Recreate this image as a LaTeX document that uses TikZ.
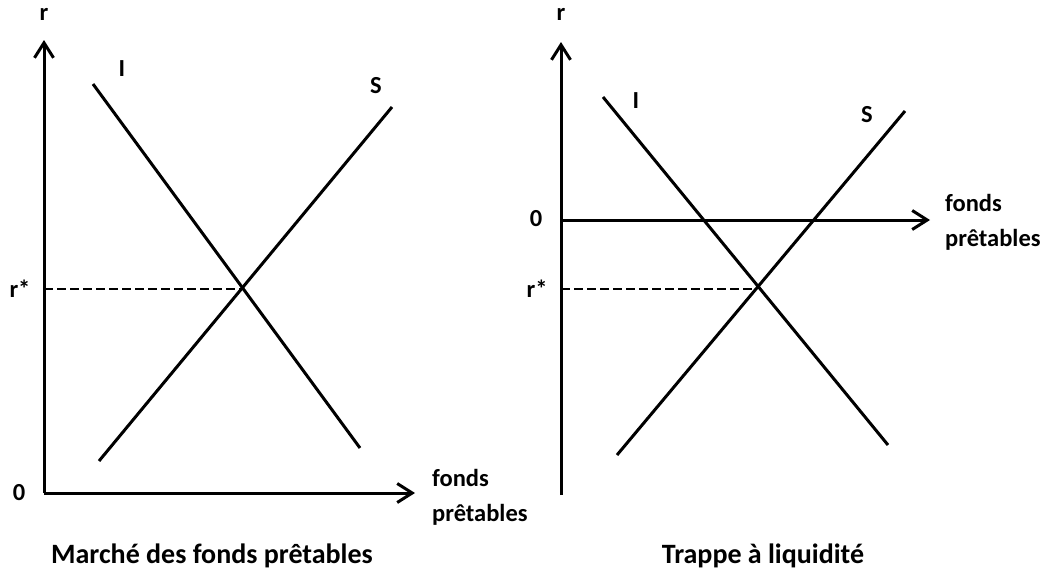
\documentclass[tikz,border=0pt]{standalone}
\usepackage{fontspec}
\setmainfont{Carlito}
\usetikzlibrary{arrows.meta, positioning}

\begin{document}
\begin{tikzpicture}[
        x=1pt, y=-1pt,
        axis/.style={line width=3pt, -{Straight Barb[length=15pt, width=19pt, line width=3pt]}},
        curve/.style={line width=3pt},
        guide/.style={line width=2.7pt, dash pattern=on 9pt off 4pt},
        lbl/.style={font=\bfseries\fontsize{24.5}{35}\selectfont, inner sep=0pt, align=left},
        caption/.style={font=\bfseries\fontsize{28}{32}\selectfont, inner sep=0pt}
    ]
        \useasboundingbox (0,0) rectangle (1048,571);

        % Left panel: loanable funds market
        \coordinate (o1) at (44,493);
        \coordinate (yt1) at (44,40);
        \coordinate (xt1) at (415,493);
        \coordinate (rs1) at (44,289);
        \coordinate (eq1) at (242,289);
        \coordinate (ia1) at (93,84);
        \coordinate (ib1) at (360,448);
        \coordinate (sa1) at (99,461);
        \coordinate (sb1) at (392,107);

        \draw [axis] (o1) -- (yt1);
        \draw [axis] (o1) -- (xt1);
        \draw [curve] (ia1) -- (ib1);
        \draw [curve] (sa1) -- (sb1);
        \draw [guide] (rs1) -- (eq1);

        \node (r1) [lbl] at (44,14) {r};
        \node (zero1) [lbl] at (19,493) {0};
        \node (rstar1) [lbl] at (20,289) {r*};
        \node (ilbl1) [lbl] at (122,69) {I};
        \node (slbl1) [lbl] at (376,86) {S};
        \node (funds1) [lbl, right=17pt of xt1, yshift=-4pt] {fonds\\prêtables};
        \node (title1) [caption] at (212,556) {Marché des fonds prêtables};

        % Right panel: liquidity trap
        \coordinate (o2) at (561,495);
        \coordinate (yt2) at (561,42);
        \coordinate (xo2) at (561,220);
        \coordinate (xt2) at (930,220);
        \coordinate (rs2) at (561,289);
        \coordinate (eq2) at (757,289);
        \coordinate (ia2) at (603,97);
        \coordinate (ib2) at (888,445);
        \coordinate (sa2) at (617,455);
        \coordinate (sb2) at (905,111);

        \draw [axis] (o2) -- (yt2);
        \draw [axis] (xo2) -- (xt2);
        \draw [curve] (ia2) -- (ib2);
        \draw [curve] (sa2) -- (sb2);
        \draw [guide] (rs2) -- (eq2);

        \node (r2) [lbl] at (561,14) {r};
        \node (zero2) [lbl] at (536,219) {0};
        \node (rstar2) [lbl] at (537,289) {r*};
        \node (ilbl2) [lbl] at (636,101) {I};
        \node (slbl2) [lbl] at (867,115) {S};
        \node (funds2) [lbl, right=15pt of xt2, yshift=-2pt] {fonds\\prêtables};
        \node (title2) [caption] at (763,556) {Trappe à liquidité};
    \end{tikzpicture}
\end{document}
